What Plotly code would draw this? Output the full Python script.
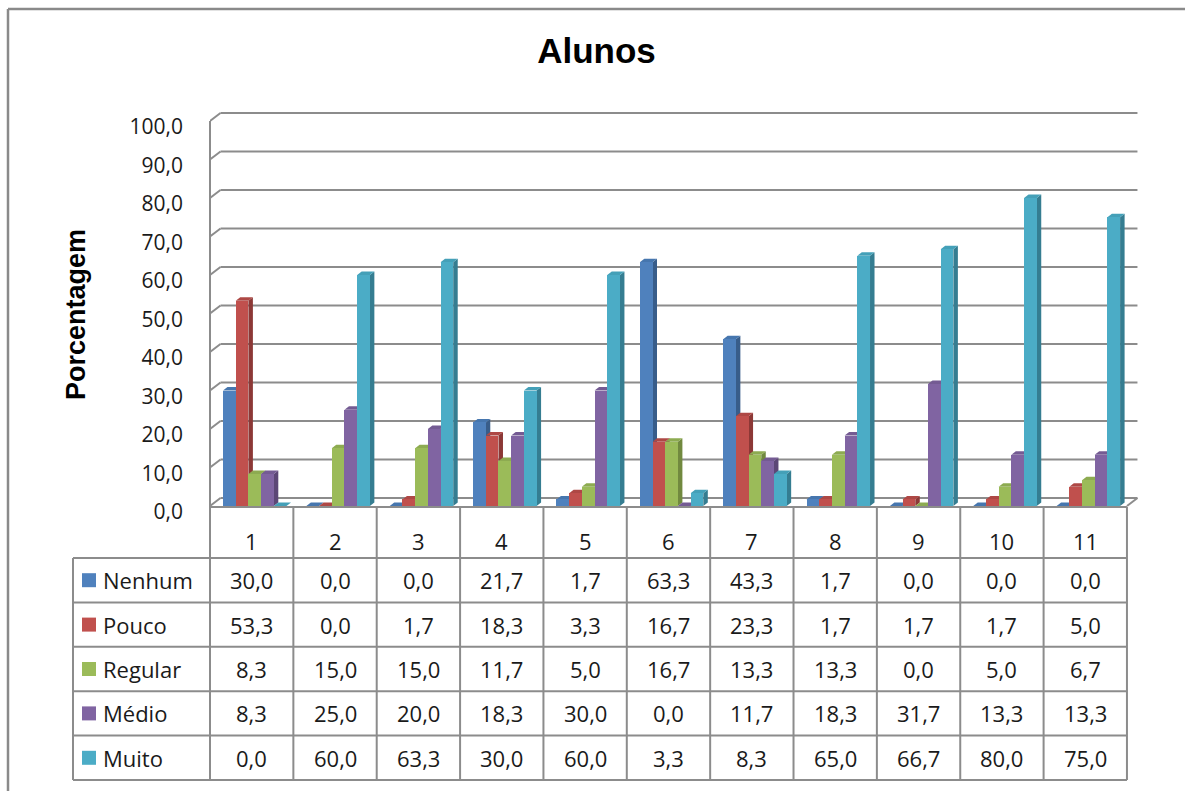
import plotly.graph_objects as go

# ---- data ----
categories = ["1", "2", "3", "4", "5", "6", "7", "8", "9", "10", "11"]
series_names = ["Nenhum", "Pouco", "Regular", "Médio", "Muito"]
nenhum = [30.0, 0.0, 0.0, 21.7, 1.7, 63.3, 43.3, 1.7, 0.0, 0.0, 0.0]
pouco = [53.3, 0.0, 1.7, 18.3, 3.3, 16.7, 23.3, 1.7, 1.7, 1.7, 5.0]
regular = [8.3, 15.0, 15.0, 11.7, 5.0, 16.7, 13.3, 13.3, 0.0, 5.0, 6.7]
medio = [8.3, 25.0, 20.0, 18.3, 30.0, 0.0, 11.7, 18.3, 31.7, 13.3, 13.3]
muito = [0.0, 60.0, 63.3, 30.0, 60.0, 3.3, 8.3, 65.0, 66.7, 80.0, 75.0]
series_values = [nenhum, pouco, regular, medio, muito]
y_ticks = [0, 10, 20, 30, 40, 50, 60, 70, 80, 90, 100]

# ---- style ----
front_colors = ["#4F81BD", "#C0504D", "#9BBB59", "#8064A2", "#4BACC6"]
side_colors = ["#385D8A", "#8C3836", "#71893F", "#5C4776", "#357D91"]
top_colors = ["#4676AE", "#AE4845", "#8DAB51", "#745B93", "#44A0B8"]
LINE = "#8c8c8c"
FONT_BODY = "Open Sans"

W, H = 1185, 791
PX_L, PX_R, PX_T, PX_B = 210, 1150, 100, 520   # plot area in pixels
CAT_W = 83.36                                   # pixels per category
Y0_PX, Y100_PX = 506, 121                       # where 0 and 100 sit
Y_S = (Y0_PX - Y100_PX) / 100.0                 # pixels per percent

X0 = -0.5
X1 = X0 + (PX_R - PX_L) / CAT_W
YR0 = -(PX_B - Y0_PX) / Y_S
YR1 = 100 + (Y100_PX - PX_T) / Y_S

n_cat = len(categories)
table_right = X0 + n_cat                        # right edge of the table (data x)


def xpx(v):
    return PX_L + (v - X0) * CAT_W


def px_to_paper_x(px):
    return (px - PX_L) / (PX_R - PX_L)


def px_to_paper_y(py):
    return (PX_B - py) / (PX_B - PX_T)


# wall / floor depth and bar depth (data units)
WALL_DX = 10.5 / CAT_W
WALL_DY = 8.0 / Y_S
BAR_DX = 4.5 / CAT_W
BAR_DY = 3.5 / Y_S
BAR_W = 12.7 / CAT_W
BAR_START = -0.5 + 13.0 / CAT_W

fig = go.Figure()
x_idx = list(range(n_cat))
for j, (name, vals) in enumerate(zip(series_names, series_values)):
    fig.add_trace(go.Bar(
        x=x_idx, y=vals, name=name,
        offset=BAR_START + j * BAR_W, width=BAR_W,
        marker=dict(color=front_colors[j], line=dict(width=0)),
        hoverinfo="skip", showlegend=False,
    ))

shapes = []
# back-wall gridlines with their diagonal ticks to the front plane
for v in y_ticks:
    shapes.append(dict(type="line", xref="x", yref="y", layer="below",
                       x0=X0, y0=v, x1=X0 + WALL_DX, y1=v + WALL_DY,
                       line=dict(color=LINE, width=2)))
    shapes.append(dict(type="line", xref="x", yref="y", layer="below",
                       x0=X0 + WALL_DX, y0=v + WALL_DY,
                       x1=table_right + WALL_DX, y1=v + WALL_DY,
                       line=dict(color=LINE, width=2)))
# floor right edge
shapes.append(dict(type="line", xref="x", yref="y", layer="below",
                   x0=table_right, y0=0, x1=table_right + WALL_DX, y1=WALL_DY,
                   line=dict(color=LINE, width=2)))

# side and top faces of every column
for i in range(n_cat):
    for j, vals in enumerate(series_values):
        v = vals[i]
        xl = i + BAR_START + j * BAR_W
        xr = xl + BAR_W
        side = (f"M{xr},0 L{xr + BAR_DX},{BAR_DY} L{xr + BAR_DX},{v + BAR_DY} "
                f"L{xr},{v} Z")
        top = (f"M{xl},{v} L{xl + BAR_DX},{v + BAR_DY} L{xr + BAR_DX},{v + BAR_DY} "
               f"L{xr},{v} Z")
        shapes.append(dict(type="path", xref="x", yref="y", layer="below",
                           path=side, fillcolor=side_colors[j],
                           line=dict(width=0)))
        shapes.append(dict(type="path", xref="x", yref="y", layer="below",
                           path=top, fillcolor=top_colors[j],
                           line=dict(width=0)))

# ---- data table under the chart ----
row_lines_px = [558, 602.4, 646.8, 691.2, 735.6, 780]
legend_left_px = 73
table_right_px = xpx(table_right)
axis_px = xpx(X0)


def pline(x0, y0, x1, y1, width=2, color=LINE):
    return dict(type="line", xref="paper", yref="paper",
                x0=px_to_paper_x(x0), y0=px_to_paper_y(y0),
                x1=px_to_paper_x(x1), y1=px_to_paper_y(y1),
                line=dict(color=color, width=width))


# value axis line continuing down as the table's left rule
shapes.append(pline(axis_px, Y100_PX, axis_px, row_lines_px[-1]))
# floor front edge / table top
shapes.append(pline(axis_px, Y0_PX + 1, table_right_px, Y0_PX + 1))
for k in range(1, n_cat + 1):
    xk = xpx(X0 + k)
    shapes.append(pline(xk, Y0_PX + 1, xk, row_lines_px[-1]))
shapes.append(pline(legend_left_px, row_lines_px[0], legend_left_px, row_lines_px[-1]))
for yl in row_lines_px:
    shapes.append(pline(legend_left_px, yl, table_right_px, yl))

# chart frame (left and top edges)
shapes.append(pline(8, 9, 8, H + 5, width=2.5, color="#8a8a8a"))
shapes.append(pline(8, 9, W + 5, 9, width=2.5, color="#8a8a8a"))

annotations = []
txt_font = dict(family=FONT_BODY, size=22, color="#1a1a1a")
for i, c in enumerate(categories):
    annotations.append(dict(xref="paper", yref="paper",
                            x=px_to_paper_x(xpx(i)), y=px_to_paper_y(541),
                            text=c, showarrow=False, font=txt_font,
                            xanchor="center", yanchor="middle"))
for r, (name, vals) in enumerate(zip(series_names, series_values)):
    yc = (row_lines_px[r] + row_lines_px[r + 1]) / 2
    shapes.append(dict(type="rect", xref="paper", yref="paper",
                       x0=px_to_paper_x(82), x1=px_to_paper_x(96),
                       y0=px_to_paper_y(yc - 7), y1=px_to_paper_y(yc + 7),
                       fillcolor=front_colors[r], line=dict(width=0)))
    annotations.append(dict(xref="paper", yref="paper",
                            x=px_to_paper_x(101), y=px_to_paper_y(yc),
                            text=name, showarrow=False, font=txt_font,
                            xanchor="left", yanchor="middle"))
    for i, v in enumerate(vals):
        annotations.append(dict(xref="paper", yref="paper",
                                x=px_to_paper_x(xpx(i)), y=px_to_paper_y(yc),
                                text=f"{v:.1f}".replace(".", ","),
                                showarrow=False, font=txt_font,
                                xanchor="center", yanchor="middle"))

# value axis title
annotations.append(dict(xref="paper", yref="paper",
                        x=px_to_paper_x(76), y=px_to_paper_y(315),
                        text="<b>Porcentagem</b>", textangle=-90, showarrow=False,
                        font=dict(family="Liberation Sans", size=27, color="#000000"),
                        xanchor="center", yanchor="middle"))

fig.update_layout(
    width=W, height=H,
    margin=dict(l=PX_L, r=W - PX_R, t=PX_T, b=H - PX_B, pad=0),
    paper_bgcolor="white", plot_bgcolor="rgba(0,0,0,0)",
    barmode="overlay", bargap=0,
    title=dict(text="<b>Alunos</b>", x=596.5 / W, xanchor="center",
               y=1 - 51 / H, yanchor="middle",
               font=dict(family="Liberation Sans", size=35, color="#000000")),
    xaxis=dict(range=[X0, X1], showgrid=False, zeroline=False,
               showticklabels=False, showline=False, ticks=""),
    yaxis=dict(range=[YR0, YR1], tickvals=y_ticks,
               ticktext=[f"{t:.1f}".replace(".", ",") for t in y_ticks],
               showgrid=False, zeroline=False, showline=False, ticks="",
               ticklabelstandoff=26, ticklabelshift=6,
               tickfont=dict(family=FONT_BODY, size=21, color="#1a1a1a")),
    shapes=shapes, annotations=annotations,
    showlegend=False,
)

fig.write_html("out.html")
